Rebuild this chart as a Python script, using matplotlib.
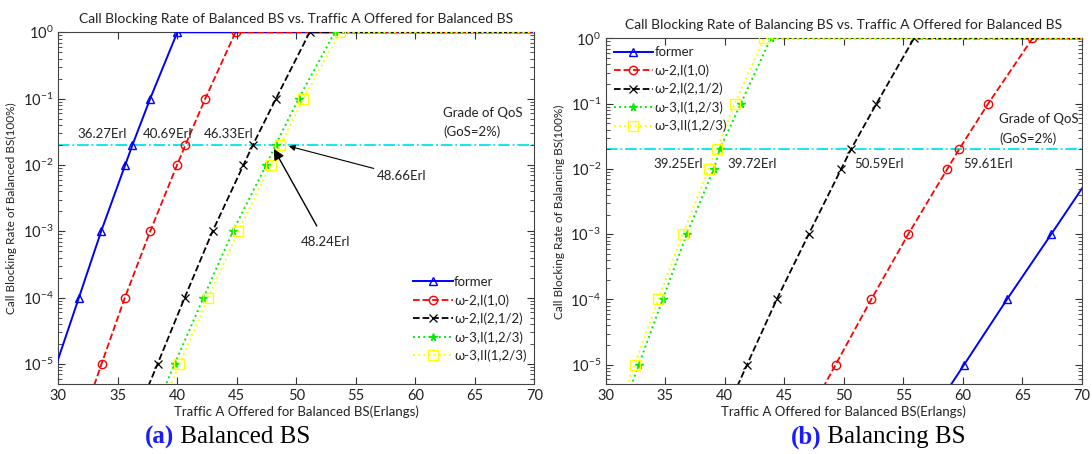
import numpy as np
import matplotlib.pyplot as plt
from matplotlib.ticker import FuncFormatter, LogLocator, NullFormatter

plt.rcParams['font.family'] = ['Lato', 'DejaVu Sans']
plt.rcParams['mathtext.default'] = 'regular'

# blocking levels at which the curves were sampled (last point = flat run to 70)
levels = [1e-6, 1e-5, 1e-4, 1e-3, 1e-2, 2e-2, 1e-1, 1, 1]

# (a) Balanced BS - offered traffic (Erlangs) at each level
a_former = [27.9, 29.85, 31.73, 33.6, 35.62, 36.23, 37.72, 40.0, 70]
a_w2_10 = [31.7, 33.63, 35.59, 37.72, 39.98, 40.68, 42.35, 44.89, 70]
a_w2_2h = [36.0, 38.34, 40.62, 42.96, 45.56, 46.35, 48.29, 51.12, 70]
a_w3_I = [37.4, 39.77, 42.2, 44.66, 47.47, 48.26, 50.19, 53.23, 70]
a_w3_II = [37.8, 40.18, 42.61, 45.13, 47.85, 48.67, 50.6, 53.67, 70]

# (b) Balancing BS
b_former = [56.5, 60.1, 63.7, 67.42, 71.1, 72.3, 74.8, 77.0, 80]
b_w2_10 = [46.3, 49.31, 52.3, 55.41, 58.69, 59.68, 62.12, 65.84, 70]
b_w2_2h = [39.4, 41.87, 44.36, 47.05, 49.78, 50.6, 52.74, 55.88, 70]
b_w3_I = [30.8, 32.78, 34.78, 36.8, 39.08, 39.58, 41.34, 43.86, 70]
b_w3_II = [30.4, 32.43, 34.42, 36.46, 38.64, 39.32, 40.84, 43.3, 70]

names = ['former', 'ω-2,I(1,0)', 'ω-2,I(2,1/2)', 'ω-3,I(1,2/3)', 'ω-3,II(1,2/3)']
gos = 0.02

styles = [
    dict(color='#0000ff', ls='-', marker='^', mfc='none', ms=6, lw=1.4),
    dict(color='#ff0000', ls='--', marker='o', mfc='none', ms=6, lw=1.3),
    dict(color='black', ls='--', marker='x', ms=6, lw=1.3, mew=0.9),
    dict(color='#00ee00', ls=':', marker='*', ms=5.5, lw=1.4),
    dict(color='#ffff00', ls=':', marker='s', mfc='none', ms=6.5, lw=1.4),
]


def fmt(v, pos):
    return r'10$^{%d}$' % int(round(np.log10(v)))


def setup(ax, title, ylabel):
    ax.set_xlim(30, 70)
    ax.set_ylim(5e-6, 1)
    ax.set_yscale('log')
    ax.set_xticks(np.arange(30, 71, 5))
    ax.yaxis.set_major_locator(LogLocator(base=10, numticks=10))
    ax.yaxis.set_minor_locator(LogLocator(base=10, subs=np.arange(2, 10), numticks=20))
    ax.yaxis.set_major_formatter(FuncFormatter(fmt))
    ax.yaxis.set_minor_formatter(NullFormatter())
    ax.tick_params(which='both', direction='in', top=True, right=True, colors='#333333',
                   labelcolor='#222222', labelsize=10.5)
    ax.tick_params(which='major', length=5)
    ax.tick_params(which='minor', length=3)
    for s in ax.spines.values():
        s.set_color('#444444')
    ax.set_title(title, fontsize=10, color='#222222', pad=7)
    ax.set_ylabel(ylabel, fontsize=8.5, color='#222222', labelpad=4)
    ax.set_xlabel('Traffic A Offered for Balanced BS(Erlangs)', fontsize=9.5,
                  color='#222222', labelpad=2)
    ax.axhline(gos, color='#00e5ee', ls='-.', lw=1.3, zorder=1)


fig = plt.figure(figsize=(10.92, 4.54), dpi=100)
ax1 = fig.add_axes([0.0534, 0.1542, 0.4359, 0.7747])
ax2 = fig.add_axes([0.5547, 0.1535, 0.4361, 0.7617])

setup(ax1, 'Call Blocking Rate of Balanced BS vs. Traffic A Offered for Balanced BS',
      'Call Blocking Rate of Balanced BS(100%)')
setup(ax2, 'Call Blocking Rate of Balancing BS vs. Traffic A Offered for Balanced BS',
      'Call Blocking Rate of Balancing BS(100%)')

for xs, nm, st in zip([a_former, a_w2_10, a_w2_2h, a_w3_I, a_w3_II], names, styles):
    marks = list(range(1, 8)) if nm != 'former' else list(range(2, 8))
    ax1.plot(xs, levels, label=nm, markevery=marks, zorder=3, **st)

for xs, nm, st in zip([b_former, b_w2_10, b_w2_2h, b_w3_I, b_w3_II], names, styles):
    ax2.plot(xs, levels, label=nm, markevery=list(range(1, 8)), zorder=3, **st)

leg1 = ax1.legend(loc='lower right', bbox_to_anchor=(1.0, 0.04), frameon=False,
                  fontsize=9.5, handlelength=3.0, handletextpad=0.1, labelspacing=0.45,
                  borderaxespad=0.2)
leg2 = ax2.legend(loc='upper left', bbox_to_anchor=(0.0, 1.0), frameon=False,
                  fontsize=9.5, handlelength=3.0, handletextpad=0.1, labelspacing=0.45,
                  borderaxespad=0.2)
for leg in (leg1, leg2):
    for t in leg.get_texts():
        t.set_color('#222222')

tk = dict(fontsize=9.5, color='#222222', va='center')
ax1.text(31.6, 0.0295, '36.27Erl', **tk)
ax1.text(37.08, 0.0295, '40.69Erl', **tk)
ax1.text(42.2, 0.0295, '46.33Erl', **tk)
ax1.text(62.33, 0.0607, 'Grade of QoS', **tk)
ax1.text(62.33, 0.0313, '(GoS=2%)', **tk)
ax1.annotate('48.66Erl', xy=(49.37, 0.0192), xytext=(56.74, 0.0069), fontsize=9.5,
             color='#222222', va='center',
             arrowprops=dict(arrowstyle='-|>', color='black', lw=0.8, mutation_scale=9,
                             shrinkA=0, shrinkB=0))
ax1.annotate('48.24Erl', xy=(48.11, 0.0175), xytext=(52.47, 0.00069), fontsize=9.5,
             color='#222222', ha='center', va='center',
             arrowprops=dict(arrowstyle='-|>', color='black', lw=1.0, mutation_scale=16,
                             shrinkA=6, shrinkB=0))

ax2.text(34.0, 0.0120, '39.25Erl', **tk)
ax2.text(40.2, 0.0120, '39.72Erl', **tk)
ax2.text(50.86, 0.0120, '50.59Erl', **tk)
ax2.text(60.04, 0.0120, '59.61Erl', **tk)
ax2.text(63.03, 0.0588, 'Grade of QoS', **tk)
ax2.text(63.03, 0.029, '(GoS=2%)', **tk)

# captions under each panel: blue bold tag followed by black text
cap = dict(family='Liberation Serif', fontsize=18, va='baseline', ha='left')
fig.canvas.draw()
r = fig.canvas.get_renderer()
for x0, tag, rest in [(0.133, '(a)', ' Balanced BS'), (0.724, '(b)', ' Balancing BS')]:
    t = fig.text(x0, 0.024, tag, color='#1a1aff', fontweight='bold', **cap)
    bb = t.get_window_extent(renderer=r).transformed(fig.transFigure.inverted())
    fig.text(bb.x1, 0.024, rest, color='black', **cap)

fig.savefig('out.png', dpi=100)
